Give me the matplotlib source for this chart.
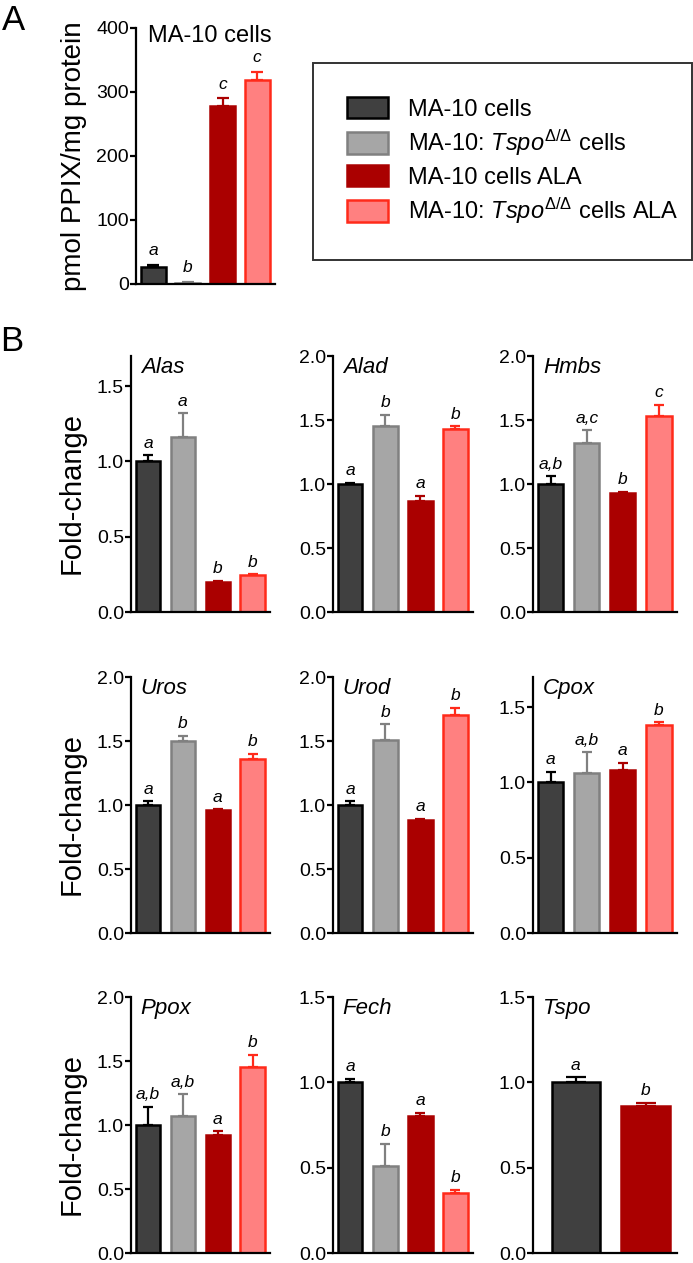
import matplotlib
matplotlib.use("Agg")
import matplotlib.pyplot as plt
from matplotlib.patches import Patch

plt.rcParams['font.family'] = ['Liberation Sans', 'DejaVu Sans']
plt.rcParams['mathtext.fontset'] = 'custom'
plt.rcParams['mathtext.rm'] = 'Liberation Sans'
plt.rcParams['mathtext.it'] = 'Liberation Sans:italic'

# groups and colours
groups = ["MA-10 cells",
          r"MA-10: $\mathit{Tspo}^{\Delta/\Delta}$ cells",
          "MA-10 cells ALA",
          r"MA-10: $\mathit{Tspo}^{\Delta/\Delta}$ cells ALA"]
face = ["#404040", "#a6a6a6", "#aa0000", "#ff8080"]
edge = ["#000000", "#808080", "#aa0000", "#ff2a1a"]

# panel A: PPIX content
ppix_mean = [27, 2, 278, 318]
ppix_err = [3, 1, 12, 14]
ppix_sig = ["a", "b", "c", "c"]

# panel B: fold-change per gene
genes = ["Alas", "Alad", "Hmbs", "Uros", "Urod", "Cpox", "Ppox", "Fech", "Tspo"]
alas = [1.00, 1.16, 0.20, 0.245]
alas_err = [0.04, 0.16, 0.005, 0.005]
alas_sig = ["a", "a", "b", "b"]
alad = [1.00, 1.45, 0.87, 1.43]
alad_err = [0.01, 0.09, 0.04, 0.02]
alad_sig = ["a", "b", "a", "b"]
hmbs = [1.00, 1.32, 0.93, 1.53]
hmbs_err = [0.06, 0.10, 0.01, 0.09]
hmbs_sig = ["a,b", "a,c", "b", "c"]
uros = [1.00, 1.50, 0.96, 1.36]
uros_err = [0.03, 0.04, 0.005, 0.04]
uros_sig = ["a", "b", "a", "b"]
urod = [1.00, 1.51, 0.88, 1.70]
urod_err = [0.03, 0.12, 0.01, 0.06]
urod_sig = ["a", "b", "a", "b"]
cpox = [1.00, 1.06, 1.08, 1.38]
cpox_err = [0.07, 0.14, 0.05, 0.02]
cpox_sig = ["a", "a,b", "a", "b"]
ppox = [1.00, 1.07, 0.92, 1.45]
ppox_err = [0.14, 0.17, 0.03, 0.10]
ppox_sig = ["a,b", "a,b", "a", "b"]
fech = [1.00, 0.51, 0.80, 0.35]
fech_err = [0.02, 0.13, 0.02, 0.02]
fech_sig = ["a", "b", "a", "b"]
tspo = [1.00, 0.86]
tspo_err = [0.03, 0.02]
tspo_sig = ["a", "b"]
tspo_groups = [0, 2]

gene_data = [alas, alad, hmbs, uros, urod, cpox, ppox, fech, tspo]
gene_err = [alas_err, alad_err, hmbs_err, uros_err, urod_err, cpox_err, ppox_err, fech_err, tspo_err]
gene_sig = [alas_sig, alad_sig, hmbs_sig, uros_sig, urod_sig, cpox_sig, ppox_sig, fech_sig, tspo_sig]
gene_ymax = [1.7, 2.0, 2.0, 2.0, 2.0, 1.7, 2.0, 1.5, 1.5]

W, H = 693, 1263


def px_axes(left, right, top, bottom):
    return fig.add_axes([left / W, 1 - bottom / H, (right - left) / W, (bottom - top) / H])


def style(ax):
    ax.spines['top'].set_visible(False)
    ax.spines['right'].set_visible(False)
    ax.spines['left'].set_linewidth(1.6)
    ax.spines['bottom'].set_linewidth(1.6)
    ax.tick_params(axis='y', length=4, width=1.6, labelsize=14, pad=1)
    ax.tick_params(axis='x', bottom=False, labelbottom=False)


def draw_bars(ax, idx, means, errs, sig, width, cap, gap):
    for x, (i, m, e, s) in enumerate(zip(idx, means, errs, sig)):
        ax.bar(x, m, width=width, color=face[i], edgecolor=edge[i], linewidth=1.8, zorder=2)
        ax.errorbar(x, m, yerr=[[0], [e]], fmt='none', ecolor=edge[i], elinewidth=1.6,
                    capsize=cap, capthick=1.6, zorder=1)
        ax.annotate(s, (x, m + e), xytext=(0, gap), textcoords='offset points',
                    ha='center', va='baseline', fontsize=12.5, style='italic')


fig = plt.figure(figsize=(W / 100, H / 100), dpi=100)

# ---- panel A
axA = px_axes(136, 275, 28, 284)
draw_bars(axA, [0, 1, 2, 3], ppix_mean, ppix_err, ppix_sig, 0.72, 4.3, 7)
axA.set_xlim(-0.49, 3.51)
axA.set_ylim(0, 400)
axA.set_yticks([0, 100, 200, 300, 400])
style(axA)
axA.set_ylabel("pmol PPIX/mg protein", fontsize=20)
axA.yaxis.set_label_coords(-0.35, 0.5)
axA.text(0.086, 1.012, "MA-10 cells", transform=axA.transAxes, fontsize=17, va='top')

handles = [Patch(facecolor=face[i], edgecolor=edge[i], linewidth=1.8) for i in range(4)]
leg = axA.legend(handles, groups, bbox_to_anchor=(313 / W, 1 - 257 / H, 379 / W, 194 / H),
                 bbox_transform=fig.transFigure, loc='upper left', mode='expand',
                 borderaxespad=0, fontsize=17, fancybox=False, edgecolor='black',
                 handlelength=1.74, handleheight=1.0, handletextpad=0.85,
                 labelspacing=0.3, borderpad=1.45)
leg.get_frame().set_linewidth(1.4)

fig.text(2 / W, 1 - 4 / H, "A", fontsize=25, va='top', ha='left')
fig.text(0 / W, 1 - 325 / H, "B", fontsize=25, va='top', ha='left')

# ---- panel B
cols = [(131, 270), (333, 473), (533, 677)]
rows = [(356, 612), (677, 933), (997, 1253)]
for k, gene in enumerate(genes):
    r, c = divmod(k, 3)
    ax = px_axes(cols[c][0], cols[c][1], rows[r][0], rows[r][1])
    if gene == "Tspo":
        draw_bars(ax, tspo_groups, gene_data[k], gene_err[k], gene_sig[k], 0.69, 7.5, 5.5)
        ax.set_xlim(-0.61, 1.45)
    else:
        draw_bars(ax, [0, 1, 2, 3], gene_data[k], gene_err[k], gene_sig[k], 0.70, 3.6, 5.5)
        ax.set_xlim(-0.49, 3.5)
    ymax = gene_ymax[k]
    ax.set_ylim(0, ymax)
    ticks = [t * 0.5 for t in range(int(ymax / 0.5 + 1e-6) + 1)]
    ax.set_yticks(ticks)
    ax.set_yticklabels(["%.1f" % t for t in ticks])
    style(ax)
    ax.text(0.07, 0.995, gene, transform=ax.transAxes, fontsize=16, style='italic', va='top')
    if c == 0:
        ax.set_ylabel("Fold-change", fontsize=21)
        ax.yaxis.set_label_coords(-0.33, 0.465)

fig.savefig("out.png", dpi=100)
